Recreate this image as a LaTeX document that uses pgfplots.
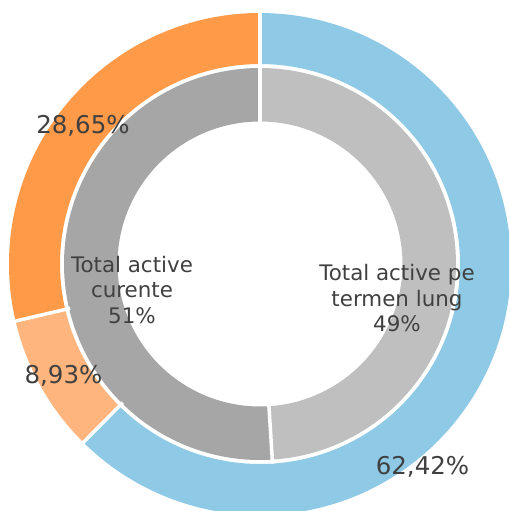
\documentclass[border=0pt]{standalone}
\usepackage{pgfplots}
\pgfplotsset{compat=1.18}
\usepgfplotslibrary{polar}
\usepackage{pgfplotstable}
\usepackage{fontspec}
\setmainfont{DejaVu Sans}

\definecolor{cblue}{HTML}{8EC9E6}
\definecolor{corange}{HTML}{FF9A48}
\definecolor{clight}{HTML}{FFB57D}
\definecolor{cgraylt}{HTML}{BFBFBF}
\definecolor{cgraydk}{HTML}{A6A6A6}
\definecolor{ctext}{HTML}{404040}

% outer ring, percent of total
\pgfplotstableread{
part value
termenlung 62.42
curente1 8.93
curente2 28.65
}\outerring
% inner ring
\pgfplotstableread{
part value
termenlung 49
curente 51
}\innerring

% boundary angles, clockwise from 12 o'clock
\pgfplotstablegetelem{0}{value}\of\outerring
\pgfmathsetmacro\oB{90-3.6*\pgfplotsretval}
\pgfplotstablegetelem{1}{value}\of\outerring
\pgfmathsetmacro\oC{\oB-3.6*\pgfplotsretval}
\pgfplotstablegetelem{0}{value}\of\innerring
\pgfmathsetmacro\iB{90-3.6*\pgfplotsretval}

\begin{document}
\begin{tikzpicture}
\path[use as bounding box] (0pt,0pt) rectangle (509pt,511pt);
\clip (0pt,0pt) rectangle (509pt,511pt);
\begin{polaraxis}[
  at={(260pt,247pt)}, anchor=center,
  scale only axis, width=502pt, height=502pt,
  ymin=0, ymax=251,
  hide axis, clip=false,
]
% outer ring (r 200..251)
\addplot [draw=cblue, line width=51pt, no markers, domain=\oB:90, samples=200, variable=\t] ({\t}, {225.5});
\addplot [draw=clight, line width=51pt, no markers, domain=\oC:\oB, samples=60, variable=\t] ({\t}, {225.5});
\addplot [draw=corange, line width=51pt, no markers, domain=-270:\oC, samples=120, variable=\t] ({\t}, {225.5});
% inner ring (r 142.5..196)
\addplot [draw=cgraylt, line width=53.5pt, no markers, domain=\iB:90, samples=200, variable=\t] ({\t}, {169.25});
\addplot [draw=cgraydk, line width=53.5pt, no markers, domain=-270:\iB, samples=200, variable=\t] ({\t}, {169.25});
% white separators
\addplot [white, line width=3.5pt, no markers, domain=130:270, samples=2, variable=\t] ({90}, {\t});
\addplot [white, line width=3.5pt, no markers, domain=195:270, samples=2, variable=\t] ({\oB}, {\t});
\addplot [white, line width=3.5pt, no markers, domain=195:270, samples=2, variable=\t] ({\oC}, {\t});
\addplot [white, line width=3.5pt, no markers, domain=130:200, samples=2, variable=\t] ({\iB}, {\t});
\end{polaraxis}
\begin{scope}[text=ctext]
\node[font=\fontsize{24.5}{29}\selectfont, anchor=base] at (422.5pt,36pt) {62,42\%};
\node[font=\fontsize{24.5}{29}\selectfont, anchor=base] at (63.5pt,127pt) {8,93\%};
\node[font=\fontsize{24.5}{29}\selectfont, anchor=base] at (83pt,377pt) {28,65\%};
\node[font=\fontsize{21.4}{25.5}\selectfont, align=center] at (397pt,212.5pt) {Total active pe\\termen lung\\49\%};
\node[font=\fontsize{21.4}{25.5}\selectfont, align=center] at (132pt,221pt) {Total active\\curente\\51\%};
\end{scope}
\end{tikzpicture}
\end{document}
